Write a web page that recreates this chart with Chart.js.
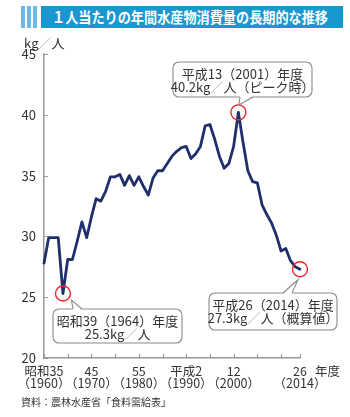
<!DOCTYPE html>
<html><head><meta charset="utf-8">
<script src="https://cdn.jsdelivr.net/npm/chart.js@4.4.0/dist/chart.umd.min.js"></script>
<style>
html,body{margin:0;padding:0;background:#fff;}
#wrap{position:relative;width:350px;height:417px;overflow:hidden;font-family:"Noto Sans CJK JP","Noto Sans",sans-serif;background:#fff;}
#chartBox{position:absolute;left:0;top:0;width:350px;height:417px;}
.stripe{position:absolute;top:6px;height:22px;width:4px;background:#6cb9e5;}
#bar{position:absolute;left:41px;top:6px;width:302px;height:22px;background:#1b97d0;}
#title{position:absolute;left:52px;top:6px;height:22px;line-height:22px;color:#fff;font-weight:bold;font-size:15px;white-space:nowrap;transform-origin:left center;}
#src{position:absolute;left:21px;top:395px;font-size:10px;color:#333;white-space:nowrap;line-height:14px;}
</style></head>
<body><div id="wrap">
<div class="stripe" style="left:21px"></div>
<div class="stripe" style="left:27px"></div>
<div class="stripe" style="left:33px"></div>
<div id="bar"></div>
<div id="title">１人当たりの年間水産物消費量の長期的な推移</div>
<div id="chartBox"><canvas id="c"></canvas></div>
<div id="src">資料：農林水産省「食料需給表」</div>
</div>
<script>
// ---- data ----
const years = [1960,1961,1962,1963,1964,1965,1966,1967,1968,1969,
  1970,1971,1972,1973,1974,1975,1976,1977,1978,1979,
  1980,1981,1982,1983,1984,1985,1986,1987,1988,1989,
  1990,1991,1992,1993,1994,1995,1996,1997,1998,1999,
  2000,2001,2002,2003,2004,2005,2006,2007,2008,2009,
  2010,2011,2012,2013,2014];
const consumption = [27.8,29.9,29.9,29.9,25.3,28.1,28.1,29.6,31.2,29.9,
  31.6,33.1,32.9,33.7,34.9,34.9,35.1,34.2,35.0,34.2,
  34.9,34.1,33.4,34.8,35.4,35.4,36.0,36.6,37.0,37.3,
  37.4,36.4,36.8,37.4,39.1,39.2,38.0,36.6,35.6,36.0,
  37.4,40.2,37.7,35.4,34.5,34.4,32.6,31.8,31.1,30.1,
  28.8,29.0,28.0,27.5,27.3];
const tickYears = [1960,1965,1970,1975,1980,1985,1990,1995,2000,2005,2010,2014];
const labeledYears = [1960,1970,1980,1990,2000,2014];
const eraLabels = ['昭和35','45','55','平成2','12','26'];
const westernLabels = ['（1960）','（1970）','（1980）','（1990）','（2000）','（2014）'];
const yTicks = [20,25,30,35,40,45];
const yUnit = 'kg／人';
const xUnit = '年度';
const highlightYears = [1964, 2001, 2014];
const calloutLine1 = ['昭和39（1964）年度','平成13（2001）年度','平成26（2014）年度'];
const calloutLine2 = ['25.3kg／人','40.2kg／人（ピーク時）','27.3kg／人（概算値）'];

// ---- layout of callouts (pixels) ----
const calloutBoxes = [
  {x:53, y:309, w:129, h:34, tail:{b1:[73,82], edge:'top', tip:[8.5,6.5]}},
  {x:173, y:62, w:139, h:35, tail:{b1:[240,253], edge:'bottom', tip:[0.5,-7.5]}},
  {x:209, y:293, w:128, h:37, tail:{b1:[283,292], edge:'top', tip:[-2,10.5]}}
];

// fit title
const t = document.getElementById('title');
const tw = t.getBoundingClientRect().width;
t.style.transform = 'scaleX(' + (276 / tw) + ')';

const FONT = '"Noto Sans CJK JP","Noto Sans",sans-serif';
const AXIS = '#9a9a9a';

function drawRuns(ctx, text, cx, cy, color) {
  const w = ctx.measureText(text).width;
  let x = cx - w / 2;
  ctx.textAlign = 'left';
  ctx.textBaseline = 'middle';
  for (const ch of text) {
    ctx.fillStyle = ch === '／' ? '#b8b8b8' : color;
    ctx.fillText(ch, x, cy);
    x += ctx.measureText(ch).width;
  }
}

const deco = {
  id: 'deco',
  afterDraw(chart) {
    const ctx = chart.ctx;
    const xs = chart.scales.x, ys = chart.scales.y;
    ctx.save();
    // inner ticks
    ctx.strokeStyle = AXIS; ctx.lineWidth = 1.2;
    ctx.beginPath();
    yTicks.forEach(v => { const py = Math.round(ys.getPixelForValue(v)) + 0.5; ctx.moveTo(xs.left, py); ctx.lineTo(xs.left + 4, py); });
    tickYears.forEach(v => { const px = Math.round(xs.getPixelForValue(v)) + 0.5; ctx.moveTo(px, ys.bottom); ctx.lineTo(px, ys.bottom - 4); });
    ctx.stroke();
    // unit labels
    ctx.font = '13px ' + FONT;
    ctx.textBaseline = 'middle';
    const uw = ctx.measureText(yUnit).width;
    drawRuns(ctx, yUnit, 24 + uw / 2, 43, '#333');
    ctx.font = '12.5px ' + FONT;
    ctx.fillStyle = '#333'; ctx.textAlign = 'left';
    ctx.fillText(xUnit, 315, 371.5);
    // circles
    const centers = highlightYears.map(yr => {
      const i = years.indexOf(yr);
      return [xs.getPixelForValue(yr), ys.getPixelForValue(consumption[i])];
    });
    ctx.strokeStyle = '#e8262b'; ctx.lineWidth = 1.4;
    centers.forEach(c => { ctx.beginPath(); ctx.arc(c[0], c[1], 7.5, 0, Math.PI * 2); ctx.stroke(); });
    // callouts
    calloutBoxes.forEach((b, k) => {
      const r = 6;
      ctx.beginPath();
      ctx.moveTo(b.x + r, b.y);
      ctx.arcTo(b.x + b.w, b.y, b.x + b.w, b.y + b.h, r);
      ctx.arcTo(b.x + b.w, b.y + b.h, b.x, b.y + b.h, r);
      ctx.arcTo(b.x, b.y + b.h, b.x, b.y, r);
      ctx.arcTo(b.x, b.y, b.x + b.w, b.y, r);
      ctx.closePath();
      ctx.fillStyle = '#fff'; ctx.fill();
      ctx.strokeStyle = '#8a8a8a'; ctx.lineWidth = 1.1; ctx.stroke();
      const c = centers[k];
      const tip = [c[0] + b.tail.tip[0], c[1] + b.tail.tip[1]];
      const ey = b.tail.edge === 'top' ? b.y : b.y + b.h;
      const inner = b.tail.edge === 'top' ? 1.2 : -1.2;
      ctx.beginPath();
      ctx.moveTo(b.tail.b1[0], ey + inner);
      ctx.lineTo(tip[0], tip[1]);
      ctx.lineTo(b.tail.b1[1], ey + inner);
      ctx.closePath();
      ctx.fillStyle = '#fff'; ctx.fill();
      ctx.beginPath();
      ctx.moveTo(b.tail.b1[0], ey);
      ctx.lineTo(tip[0], tip[1]);
      ctx.lineTo(b.tail.b1[1], ey);
      ctx.stroke();
      ctx.font = '13px ' + FONT;
      const cx = b.x + b.w / 2;
      drawRuns(ctx, calloutLine1[k], cx, b.y + 12.5, '#333');
      drawRuns(ctx, calloutLine2[k], cx, b.y + 25.5, '#333');
    });
    ctx.restore();
  }
};

new Chart(document.getElementById('c'), {
  type: 'line',
  data: {
    datasets: [{
      data: years.map((y, i) => ({x: y, y: consumption[i]})),
      borderColor: '#1f2f6b',
      borderWidth: 2.8,
      borderJoinStyle: 'round',
      borderCapStyle: 'round',
      pointRadius: 0,
      tension: 0,
      fill: false,
      clip: 6
    }]
  },
  options: {
    responsive: true,
    maintainAspectRatio: false,
    animation: false,
    devicePixelRatio: 1,
    layout: {padding: {top: 54, right: 50, bottom: 0, left: 0}},
    plugins: {legend: {display: false}, tooltip: {enabled: false}, title: {display: false}},
    scales: {
      x: {
        type: 'linear', min: 1960, max: 2014,
        afterBuildTicks: s => { s.ticks = tickYears.map(v => ({value: v})); },
        afterFit: s => { s.height = 59; },
        grid: {display: false, drawTicks: false},
        border: {display: true, color: AXIS, width: 1.5},
        ticks: {
          autoSkip: false, maxRotation: 0, minRotation: 0,
          padding: 7.5, color: '#333',
          font: {family: FONT, size: 12.5, lineHeight: 0.96},
          callback: v => { const i = labeledYears.indexOf(v); return i < 0 ? '' : [eraLabels[i], westernLabels[i]]; }
        }
      },
      y: {
        min: 20, max: 45,
        afterBuildTicks: s => { s.ticks = yTicks.map(v => ({value: v})); },
        afterFit: s => { s.width = 44; },
        grid: {display: false, drawTicks: false},
        border: {display: true, color: AXIS, width: 1.5},
        ticks: {padding: 8, color: '#333', font: {family: FONT, size: 13}}
      }
    }
  },
  plugins: [deco]
});
</script>
</body></html>
